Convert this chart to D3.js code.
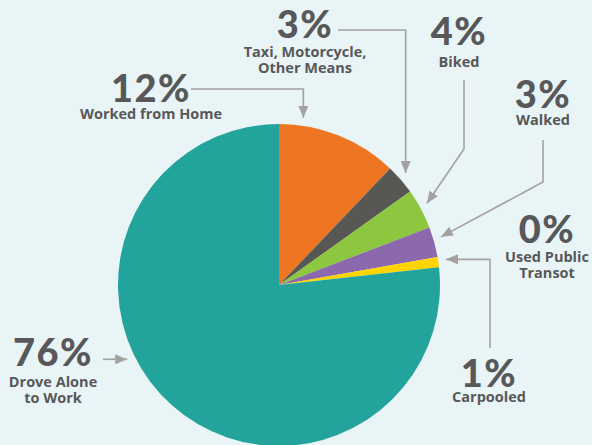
<!DOCTYPE html>
<html>
<head>
<meta charset="utf-8">
<script src="https://cdn.jsdelivr.net/npm/d3@7"></script>
<style>
  html, body { margin: 0; padding: 0; background: #e8f4f5; }
  svg { display: block; }
</style>
</head>
<body>
<svg id="chart" width="592" height="445"></svg>
<script>
// commute mode shares, clockwise from 12 o'clock
var categories = ["Worked from Home", "Taxi, Motorcycle, Other Means", "Biked", "Walked", "Used Public Transot", "Carpooled", "Drove Alone to Work"];
var shares = [12, 3, 4, 3, 0, 1, 76];
var percentLabels = ["12%", "3%", "4%", "3%", "0%", "1%", "76%"];
var labelLines = [
    ["Worked from Home"],
    ["Taxi, Motorcycle,", "Other Means"],
    ["Biked"],
    ["Walked"],
    ["Used Public", "Transot"],
    ["Carpooled"],
    ["Drove Alone", "to Work"]
];
var colors = ["#ee7623", "#575754", "#8dc63f", "#8c68ad", "#2f7fc1", "#ffd400", "#22a39b"];

var svg = d3.select("#chart"),
    width = +svg.attr("width"),
    height = +svg.attr("height");

var cx = 279, cy = 285, radius = 161;
var textColor = "#58585a", lineColor = "#a3a1a0";

// label layout: x = centre, y = baseline of the big number
// arrow: kind of leader, start point, where along the slice the tip points (0..1)
var layout = [
    { x: 151, y: 102, sub: 17, start: [191, 89], kind: "hv", at: 0.19 },
    { x: 305, y: 38, sub: 19, start: [338, 30], kind: "hv", at: 0.45 },
    { x: 459, y: 45, sub: 22, start: [464, 80], kind: "vd", elbow: 149, at: 0.45 },
    { x: 543, y: 108, sub: 17, start: [543, 140], kind: "vd", elbow: 182, at: 0.4 },
    { x: 547, y: 243, sub: 19, start: null },
    { x: 489, y: 387, sub: 15, start: [490, 348], kind: "vh", at: 0.35 },
    { x: 53, y: 366, sub: 21, start: [103, 357], kind: "h", at: 0.58 }
];

var g = svg.append("g").attr("transform", "translate(" + cx + "," + cy + ")");

var pie = d3.pie().sort(null).value(function(d) { return d; });
var arcs = pie(shares);
var arc = d3.arc().innerRadius(0).outerRadius(radius);

g.selectAll("path.slice")
    .data(arcs)
    .enter()
    .append("path")
    .attr("class", "slice")
    .attr("d", arc)
    .attr("fill", function(d, i) { return colors[i]; });

// arrowhead
svg.append("defs").append("marker")
    .attr("id", "arrow")
    .attr("markerUnits", "userSpaceOnUse")
    .attr("viewBox", "0 0 12 10")
    .attr("refX", 12).attr("refY", 5)
    .attr("markerWidth", 12).attr("markerHeight", 10)
    .attr("orient", "auto")
    .append("path")
    .attr("d", "M0,0L12,5L0,10z")
    .attr("fill", lineColor);

function tipPoint(i) {
    var a = arcs[i];
    var ang = a.startAngle + (a.endAngle - a.startAngle) * layout[i].at;
    var r = radius + 8;
    return [cx + r * Math.sin(ang), cy - r * Math.cos(ang)];
}

var line = d3.line();

layout.forEach(function(l, i) {
    if (!l.start) return;
    var tip = tipPoint(i), pts;
    if (l.kind == "hv") pts = [l.start, [tip[0], l.start[1]], tip];
    else if (l.kind == "vd") pts = [l.start, [l.start[0], l.elbow], tip];
    else if (l.kind == "vh") pts = [l.start, [l.start[0], tip[1]], tip];
    else pts = [[l.start[0], tip[1]], tip];
    svg.append("path")
        .attr("d", line(pts))
        .attr("fill", "none")
        .attr("stroke", lineColor)
        .attr("stroke-width", 1.6)
        .attr("marker-end", "url(#arrow)");
});

// labels
var labels = svg.selectAll("g.label")
    .data(categories)
    .enter()
    .append("g")
    .attr("class", "label")
    .attr("transform", function(d, i) { return "translate(" + layout[i].x + "," + layout[i].y + ")"; });

labels.append("text")
    .attr("text-anchor", "middle")
    .style("font-family", "Lato, 'Open Sans', sans-serif")
    .style("font-weight", 900)
    .style("font-size", "38px")
    .style("letter-spacing", "1.5px")
    .attr("fill", textColor)
    .text(function(d, i) { return percentLabels[i]; });

labels.each(function(d, i) {
    var t = d3.select(this).append("text")
        .attr("text-anchor", "middle")
        .style("font-family", "'Open Sans', sans-serif")
        .style("font-weight", 700)
        .style("font-size", "14.5px")
        .attr("fill", textColor);
    labelLines[i].forEach(function(s, j) {
        t.append("tspan").attr("x", 0).attr("y", layout[i].sub + j * 16).text(s);
    });
});
</script>
</body>
</html>
